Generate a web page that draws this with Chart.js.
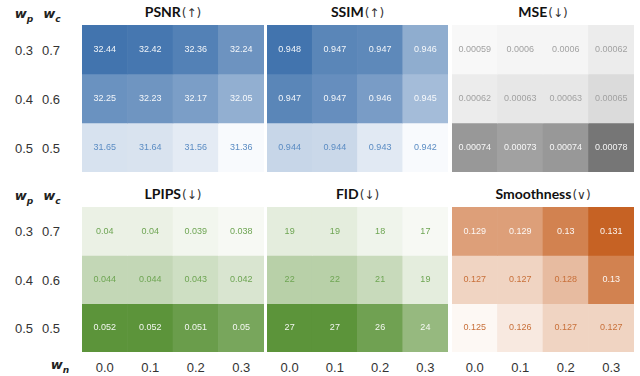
<!DOCTYPE html>
<html lang="en">
<head>
<meta charset="UTF-8">
<title>Loss weight ablation</title>
<style>
    body {
        margin: 0;
        width: 640px;
        height: 376px;
        background: white;
        position: relative;
        overflow: hidden;
        font-family: "Liberation Sans", Arial, sans-serif;
    }
    .panel { position: absolute; }
    .title {
        position: absolute;
        transform: translate(-50%, -50%);
        white-space: nowrap;
        font-family: Lato, "Liberation Sans", sans-serif;
        font-size: 14px;
        font-weight: bold;
        color: #111;
    }
    .title span { font-family: "DejaVu Sans", sans-serif; font-weight: normal; font-size: 12px; color: #333; margin-left: 1px; }
    .lbl {
        position: absolute;
        transform: translate(-50%, -50%);
        white-space: nowrap;
        font-size: 13px;
        color: #333;
    }
    .hdr { font-family: "DejaVu Sans", sans-serif; font-style: italic; font-weight: bold; font-size: 13px; color: #222; }
    .hdr sub { font-size: 9px; }
</style>
<script src="https://cdn.jsdelivr.net/npm/chart.js"></script>
</head>
<body>
<script>
    // axis labels
    const wn = ['0.0', '0.1', '0.2', '0.3'];
    const wp = ['0.3', '0.4', '0.5'];
    const wc = ['0.7', '0.6', '0.5'];

    // metric values, rows = (wp, wc), columns = wn
    const psnr = [[32.44, 32.42, 32.36, 32.24], [32.25, 32.23, 32.17, 32.05], [31.65, 31.64, 31.56, 31.36]];
    const ssim = [[0.9478, 0.9472, 0.9471, 0.9458], [0.9472, 0.9469, 0.9464, 0.9452], [0.9441, 0.944, 0.9432, 0.942]];
    const mse = [[0.00059, 0.0006, 0.0006, 0.00062], [0.00062, 0.00063, 0.00063, 0.00065], [0.00074, 0.00073, 0.00074, 0.00078]];
    const lpips = [[0.04, 0.04, 0.039, 0.038], [0.044, 0.044, 0.043, 0.042], [0.052, 0.052, 0.051, 0.05]];
    const fid = [[19, 19, 18, 17], [22, 22, 21, 19], [27, 27, 26, 24]];
    const smooth = [[0.129, 0.129, 0.13, 0.131], [0.127, 0.127, 0.128, 0.13], [0.125, 0.126, 0.127, 0.127]];

    const titles = ['PSNR', 'SSIM', 'MSE', 'LPIPS', 'FID', 'Smoothness'];
    const arrows = ['(↑)', '(↑)', '(↓)', '(↓)', '(↓)', '(∨)'];

    const colX = [[82, 264], [267, 448], [452, 634]];
    const rowY = [[25, 172], [207, 352]];

    const blue = { base: [248, 250, 253], dark: [66, 116, 174], text: '#5b8cc3' };
    const gray = { base: [248, 248, 248], dark: [118, 118, 118], text: '#a2a2a2' };
    const green = { base: [247, 249, 244], dark: [92, 148, 58], text: '#6ea553' };
    const orange = { base: [253, 248, 244], dark: [198, 98, 36], text: '#c8703a' };

    const panels = [
        { vals: psnr, pal: blue, dec: 2 },
        { vals: ssim, pal: blue, dec: 3 },
        { vals: mse, pal: gray, dec: 5 },
        { vals: lpips, pal: green, dec: 3 },
        { vals: fid, pal: green, dec: 0 },
        { vals: smooth, pal: orange, dec: 3 }
    ];

    function addDiv(cls, html, x, y) {
        const d = document.createElement('div');
        d.className = cls;
        d.innerHTML = html;
        d.style.left = x + 'px';
        d.style.top = y + 'px';
        document.body.appendChild(d);
        return d;
    }

    // value labels inside the cells
    const cellText = {
        id: 'cellText',
        afterDatasetsDraw(chart) {
            const ctx = chart.ctx;
            ctx.save();
            ctx.font = '9px "Liberation Sans", Arial, sans-serif';
            ctx.textAlign = 'center';
            ctx.textBaseline = 'middle';
            chart.data.datasets.forEach((ds, r) => {
                chart.getDatasetMeta(r).data.forEach((bar, c) => {
                    ctx.fillStyle = ds.textColors[c];
                    ctx.fillText(ds.texts[c], bar.x, (bar.y + bar.base) / 2);
                });
            });
            ctx.restore();
        }
    };

    panels.forEach((p, i) => {
        const [x0, x1] = colX[i % 3];
        const [y0, y1] = rowY[Math.floor(i / 3)];
        const flat = p.vals.flat();
        const min = Math.min(...flat), max = Math.max(...flat);
        const level = v => Math.pow((v - min) / (max - min), 1.3);
        const mix = t => 'rgb(' + p.pal.base.map((b, k) => Math.round(b + (p.pal.dark[k] - b) * t)).join(',') + ')';

        const box = document.createElement('div');
        box.className = 'panel';
        box.style.left = x0 + 'px';
        box.style.top = y0 + 'px';
        box.style.width = (x1 - x0) + 'px';
        box.style.height = (y1 - y0) + 'px';
        const cv = document.createElement('canvas');
        box.appendChild(cv);
        document.body.appendChild(box);

        addDiv('title', titles[i] + '<span>' + arrows[i] + '</span>', (x0 + x1) / 2, y0 - 14);

        new Chart(cv, {
            type: 'bar',
            data: {
                labels: wn,
                datasets: p.vals.map(row => ({
                    data: row.map(() => 1),
                    backgroundColor: row.map(v => mix(level(v))),
                    texts: row.map(v => String(Number(v.toFixed(p.dec)))),
                    textColors: row.map(v => level(v) > 0.45 ? 'rgba(255,255,255,0.92)' : p.pal.text),
                    borderWidth: 0,
                    barPercentage: 1,
                    categoryPercentage: 1
                }))
            },
            options: {
                responsive: true,
                maintainAspectRatio: false,
                animation: false,
                layout: { padding: 0 },
                plugins: { legend: { display: false }, tooltip: { enabled: false } },
                scales: {
                    x: { stacked: true, display: false },
                    y: { stacked: true, display: false, reverse: true, min: 0, max: 3 }
                }
            },
            plugins: [cellText]
        });
    });

    // row labels and headers
    rowY.forEach(([y0, y1]) => {
        addDiv('lbl hdr', 'w<sub>p</sub>', 24, y0 - 10);
        addDiv('lbl hdr', 'w<sub>c</sub>', 52, y0 - 10);
        const h = (y1 - y0) / wp.length;
        wp.forEach((v, r) => {
            addDiv('lbl', v, 24, y0 + h * (r + 0.5));
            addDiv('lbl', wc[r], 51, y0 + h * (r + 0.5));
        });
    });

    // bottom tick labels
    addDiv('lbl hdr', 'w<sub>n</sub>', 60, 366);
    colX.forEach(([x0, x1]) => {
        const w = (x1 - x0) / wn.length;
        wn.forEach((v, c) => addDiv('lbl', v, x0 + w * (c + 0.5), 367));
    });
</script>
</body>
</html>
